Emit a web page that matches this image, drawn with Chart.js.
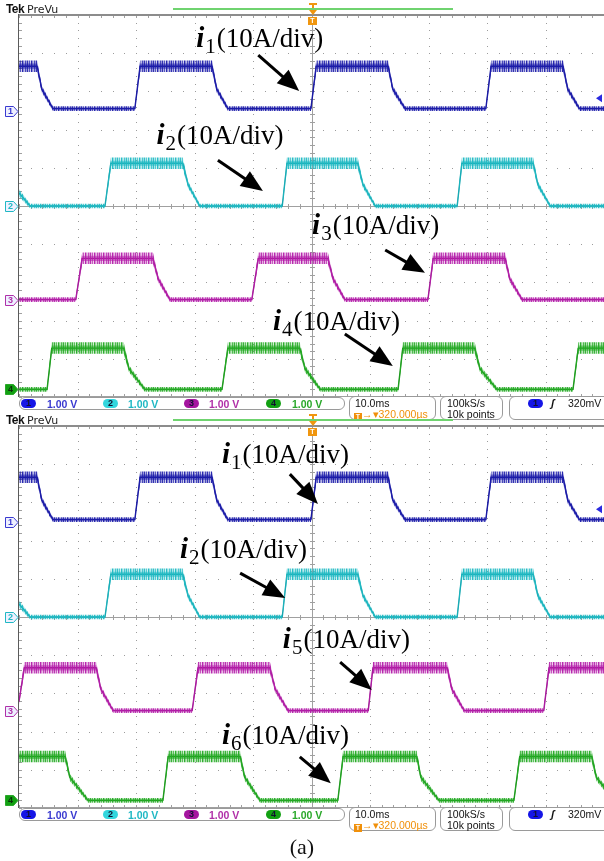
<!DOCTYPE html>
<html>
<head>
<meta charset="utf-8">
<script src="https://cdn.jsdelivr.net/npm/chart.js@4.4.0/dist/chart.umd.min.js"></script>
<style>
  body { margin: 0; background: #fff; }
  #wrap { position: relative; width: 604px; height: 861px; overflow: hidden; background: #fff; }
  .panel { position: absolute; left: 0; width: 604px; height: 422px; }
  .panel canvas { position: absolute; left: 0; top: 0; }
  .tek { position: absolute; left: 6px; top: 2px; font: bold 12px 'Liberation Sans', Arial; color: #111; letter-spacing: -0.6px; }
  .prevu { position: absolute; left: 27px; top: 3px; font: 11px 'DejaVu Sans'; color: #222; }
  .rec { position: absolute; left: 173px; top: 8px; width: 280px; height: 1.5px; background: #6fd36f; }
  .box { position: absolute; border: 1px solid #9a9a9a; border-radius: 6px; box-sizing: border-box; background: #fff; }
  .st { position: absolute; font: 10.5px 'Liberation Sans', Arial; white-space: nowrap; line-height: 10px; color: #111; }
  .ov { position: absolute; width: 15px; height: 9px; border-radius: 5px; font: bold 9px 'Liberation Sans', Arial; text-align: center; line-height: 9px; color: #101030; }
  .tb { display: inline-block; width: 8px; height: 8px; background: #f0900a; color: #fff; font: bold 7px 'Liberation Sans'; text-align: center; line-height: 8px; vertical-align: -1px; }
  #cap { position: absolute; left: 0; width: 604px; top: 834px; text-align: center; font: 22px 'Liberation Serif', serif; color: #111; }
</style>
</head>
<body>
<div id="wrap">
  <div class="panel" id="p1"><canvas id="scope1" width="604" height="400"></canvas></div>
  <div class="panel" id="p2" style="top:411px"><canvas id="scope2" width="604" height="400"></canvas></div>
  <div id="cap">(a)</div>
</div>
<script>
// time in ms (10 ms/div, trigger at 0), current in A (10 A/div)
// each point: [t, current, noise half-width]
const i1 = [
  [-50, 11.6, 1.5], [-46.9, 11.6, 1.5], [-46.1, 5.6, 0.9], [-44.2, 0.5, 0.6],
  [-30.2, 0.5, 0.6], [-29.3, 11.6, 1.5],
  [-17.0, 11.6, 1.5], [-16.2, 5.6, 0.9], [-14.3, 0.5, 0.6],
  [-0.1, 0.5, 0.6], [0.8, 11.6, 1.5],
  [13.1, 11.6, 1.5], [13.9, 5.6, 0.9], [16.0, 0.5, 0.6],
  [29.8, 0.5, 0.6], [30.7, 11.6, 1.5],
  [43.0, 11.6, 1.5], [43.8, 5.6, 0.9], [45.8, 0.5, 0.6], [50, 0.5, 0.6]
];
const i2 = [
  [-50, 3.4, 1.0], [-48.1, 0, 0.6], [-35.3, 0, 0.6], [-34.3, 11.2, 1.5],
  [-22.0, 11.2, 1.5], [-21.1, 5.6, 0.9], [-19.1, 0, 0.6],
  [-5.0, 0, 0.6], [-4.2, 11.2, 1.5],
  [7.9, 11.2, 1.5], [8.8, 5.6, 0.9], [10.9, 0, 0.6],
  [24.9, 0, 0.6], [25.7, 11.2, 1.5],
  [37.9, 11.2, 1.5], [38.7, 5.6, 0.9], [40.8, 0, 0.6], [50, 0, 0.6]
];
const i3 = [
  [-50, 0, 0.6], [-40.3, 0, 0.6], [-39.2, 10.8, 1.5],
  [-27.1, 10.8, 1.5], [-26.2, 5.4, 0.9], [-24.2, 0, 0.6],
  [-10.2, 0, 0.6], [-9.1, 10.8, 1.5],
  [2.8, 10.8, 1.5], [3.7, 5.4, 0.9], [5.7, 0, 0.6],
  [19.9, 0, 0.6], [20.8, 10.8, 1.5],
  [33.1, 10.8, 1.5], [33.9, 5.4, 0.9], [36.0, 0, 0.6], [50, 0, 0.6]
];
const i4 = [
  [-50, 0, 0.6], [-45.2, 0, 0.6], [-44.4, 10.8, 1.5],
  [-32.1, 10.8, 1.5], [-31.2, 5.4, 0.9], [-28.5, 0, 0.6],
  [-15.3, 0, 0.6], [-14.3, 10.8, 1.5],
  [-2.0, 10.8, 1.5], [-1.1, 5.4, 0.9], [1.5, 0, 0.6],
  [14.8, 0, 0.6], [15.6, 10.8, 1.5],
  [27.9, 10.8, 1.5], [28.8, 5.4, 0.9], [31.7, 0, 0.6],
  [44.7, 0, 0.6], [45.6, 10.8, 1.5], [50, 10.8, 1.5]
];
const i5 = [
  [-50, 2.4, 0.8], [-49.1, 11.2, 1.5],
  [-36.8, 11.2, 1.5], [-36.0, 5.6, 0.9], [-33.9, 0, 0.6],
  [-20.4, 0, 0.6], [-19.4, 11.2, 1.5],
  [-7.1, 11.2, 1.5], [-6.2, 5.6, 0.9], [-4.0, 0, 0.6],
  [9.7, 0, 0.6], [10.5, 11.2, 1.5],
  [23.2, 11.2, 1.5], [24.0, 5.6, 0.9], [26.1, 0, 0.6],
  [39.7, 0, 0.6], [40.6, 11.2, 1.5], [50, 11.2, 1.5]
];
const i6 = [
  [-50, 11.5, 1.5], [-42.1, 11.5, 1.5], [-41.3, 6.0, 0.9], [-38.2, 0, 0.6],
  [-25.4, 0, 0.6], [-24.5, 11.5, 1.5],
  [-12.2, 11.5, 1.5], [-11.4, 6.0, 0.9], [-8.8, 0, 0.6],
  [4.5, 0, 0.6], [5.4, 11.5, 1.5],
  [18.0, 11.5, 1.5], [18.7, 6.0, 0.9], [21.8, 0, 0.6],
  [34.6, 0, 0.6], [35.6, 11.5, 1.5],
  [47.9, 11.5, 1.5], [48.7, 6.0, 0.9], [50, 3.5, 0.8]
];

// channel ground positions (div) and trigger level on ch1 (320 mV @ 1 V/div)
const chOffset = [2.5, 0, -2.45, -4.8];
const trigLevel = 0.32;

// annotation labels: [subscript, t, div] and arrows [t0, div0, t1, div1]
const labels1 = [['1', -19.7, 4.16], ['2', -26.5, 1.62], ['3', 0.1, -0.73], ['4', -6.6, -3.25]];
const arrows1 = [[-9.1, 3.95, -2.1, 3.01], [-16.0, 1.2, -8.3, 0.39], [12.6, -1.15, 19.4, -1.75], [5.7, -3.35, 13.9, -4.19]];
const labels2 = [['1', -15.3, 4.03], ['2', -22.5, 1.54], ['5', -4.9, -0.81], ['6', -15.3, -3.32]];
const arrows2 = [[-3.7, 3.74, 1.1, 2.96], [-12.2, 1.15, -4.5, 0.5], [4.9, -1.18, 10.3, -1.91], [-2.0, -3.66, 3.3, -4.35]];

const CH = [
  { rgb: [28, 28, 170], line: '#1a1aa0', mark: '#3a3ad0', oval: '#1515e6' },
  { rgb: [30, 185, 195], line: '#14a0aa', mark: '#20b8c4', oval: '#33d6dd' },
  { rgb: [180, 30, 170], line: '#9c168f', mark: '#b030a8', oval: '#a5159f' },
  { rgb: [35, 170, 35], line: '#1a921a', mark: '#2aa82a', oval: '#12a012' },
];

// vertical-stripe texture for the noisy band (style only)
const STRIPES = [0.9, 0.35, 0.75, 0.2, 0.95, 0.5, 0.3, 0.8, 0.45];
function noiseFill(rgb) {
  const c = document.createElement('canvas');
  c.width = STRIPES.length; c.height = 1;
  const g = c.getContext('2d');
  STRIPES.forEach((al, k) => {
    g.fillStyle = `rgba(${rgb[0]},${rgb[1]},${rgb[2]},${al})`;
    g.fillRect(k, 0, 1, 1);
  });
  return g.createPattern(c, 'repeat');
}

function traceSets(pts, ch) {
  const off = chOffset[ch];
  const at = (k) => pts.map((p) => ({ x: p[0], y: off + (p[1] + k * p[2]) / 10 }));
  const base = { pointRadius: 0, tension: 0, borderJoinStyle: 'round' };
  const rgb = CH[ch].rgb.join(',');
  return [
    { ...base, data: at(1), borderWidth: 0, backgroundColor: noiseFill(CH[ch].rgb), fill: '+1' },
    { ...base, data: at(-1), borderWidth: 0, fill: false },
    { ...base, data: at(0.45), borderWidth: 0, backgroundColor: `rgba(${rgb},0.55)`, fill: '+1' },
    { ...base, data: at(-0.45), borderWidth: 0, fill: false },
    { ...base, data: at(0), borderColor: CH[ch].line, borderWidth: 1.4, fill: false },
  ];
}

function drawArrow(ctx, x0, y0, x1, y1) {
  const a = Math.atan2(y1 - y0, x1 - x0), L = 22, W = 9;
  const bx = x1 - L * Math.cos(a), by = y1 - L * Math.sin(a);
  ctx.strokeStyle = '#000';
  ctx.fillStyle = '#000';
  ctx.lineWidth = 3;
  ctx.beginPath(); ctx.moveTo(x0, y0); ctx.lineTo(bx + 2 * Math.cos(a), by + 2 * Math.sin(a)); ctx.stroke();
  ctx.beginPath();
  ctx.moveTo(x1, y1);
  ctx.lineTo(bx + W * Math.sin(a), by - W * Math.cos(a));
  ctx.lineTo(bx - W * Math.sin(a), by + W * Math.cos(a));
  ctx.closePath();
  ctx.fill();
}

function drawLabel(ctx, px, py, sub) {
  ctx.fillStyle = '#000';
  ctx.textBaseline = 'alphabetic';
  ctx.font = 'italic bold 29px "Liberation Serif"';
  ctx.fillText('i', px, py);
  let w = ctx.measureText('i').width + 1;
  ctx.font = '21px "Liberation Serif"';
  ctx.fillText(sub, px + w, py + 6);
  w += ctx.measureText(sub).width + 1;
  ctx.font = '27px "Liberation Serif"';
  ctx.fillText('(10A/div)', px + w, py);
}

const scopePlugin = {
  id: 'scope',
  beforeDatasetsDraw(chart) {
    const { ctx, chartArea: a, scales: { x, y } } = chart;
    const X = (v) => Math.round(x.getPixelForValue(v));
    const Y = (v) => Math.round(y.getPixelForValue(v));
    ctx.save();
    // dotted graticule
    ctx.fillStyle = '#9c9c9c';
    for (let t = -40; t <= 40; t += 10) {
      for (let k = -25; k <= 25; k++) ctx.fillRect(X(t), Y(k / 5), 1, 1);
    }
    for (let d = -4; d <= 4; d++) {
      for (let k = -25; k <= 25; k++) ctx.fillRect(X(k * 2), Y(d), 1, 1);
    }
    // centre crosshair with minor ticks
    ctx.fillStyle = '#a0a0a0';
    ctx.fillRect(a.left, Y(0), a.right - a.left, 1);
    ctx.fillRect(X(0), a.top, 1, a.bottom - a.top);
    for (let k = -25; k <= 25; k++) {
      ctx.fillRect(X(k * 2), Y(0) - 2, 1, 5);
      ctx.fillRect(X(0) - 2, Y(k / 5), 5, 1);
      // edge ticks
      ctx.fillRect(X(k * 2), a.top, 1, 3);
      ctx.fillRect(X(k * 2), a.bottom - 3, 1, 3);
      ctx.fillRect(a.left, Y(k / 5), 3, 1);
    }
    // border
    ctx.fillStyle = '#8c8c8c';
    ctx.fillRect(a.left, a.top - 1, a.right - a.left, 2);
    ctx.fillStyle = '#a0a0a0';
    ctx.fillRect(a.left, a.bottom - 1, a.right - a.left, 1);
    ctx.fillStyle = '#5a5a5a';
    ctx.fillRect(a.left - 1, a.top - 1, 1, a.bottom - a.top + 1);
    ctx.restore();
  },
  afterDraw(chart, args, opts) {
    const { ctx, chartArea: a, scales: { x, y } } = chart;
    ctx.save();
    // channel ground markers
    chOffset.forEach((off, c) => {
      const py = Math.round(y.getPixelForValue(off)) + 0.5;
      ctx.beginPath();
      ctx.moveTo(5.5, py - 5); ctx.lineTo(13.5, py - 5); ctx.lineTo(18, py);
      ctx.lineTo(13.5, py + 5); ctx.lineTo(5.5, py + 5); ctx.closePath();
      ctx.fillStyle = c === 3 ? CH[c].oval : '#eef0ff';
      ctx.fill();
      ctx.strokeStyle = CH[c].mark;
      ctx.lineWidth = 1;
      ctx.stroke();
      ctx.fillStyle = c === 3 ? '#0b300b' : CH[c].mark;
      ctx.font = 'bold 9px "Liberation Sans"';
      ctx.textAlign = 'center';
      ctx.textBaseline = 'middle';
      ctx.fillText(String(c + 1), 10.5, py + 0.5);
    });
    // trigger level arrow (right edge)
    const ty = y.getPixelForValue(chOffset[0] + trigLevel);
    ctx.fillStyle = '#2a2ae0';
    ctx.beginPath();
    ctx.moveTo(a.right - 8, ty); ctx.lineTo(a.right - 2, ty - 4); ctx.lineTo(a.right - 2, ty + 4);
    ctx.closePath(); ctx.fill();
    // trigger position marker
    const tx = Math.round(x.getPixelForValue(0));
    ctx.fillStyle = '#f0960f';
    ctx.fillRect(tx - 3, 3, 8, 2);
    ctx.fillRect(tx, 3, 2, 9);
    ctx.beginPath(); ctx.moveTo(tx - 3, 10); ctx.lineTo(tx + 5, 10); ctx.lineTo(tx + 1, 15); ctx.closePath(); ctx.fill();
    ctx.fillRect(tx - 4, 17, 9, 8);
    ctx.fillStyle = '#fff';
    ctx.font = 'bold 7px "Liberation Sans"';
    ctx.textAlign = 'center';
    ctx.textBaseline = 'middle';
    ctx.fillText('T', tx + 0.5, 21.5);
    // annotations
    ctx.textAlign = 'left';
    opts.labels.forEach(([sub, t, d]) => drawLabel(ctx, x.getPixelForValue(t), y.getPixelForValue(d), sub));
    opts.arrows.forEach(([t0, d0, t1, d1]) =>
      drawArrow(ctx, x.getPixelForValue(t0), y.getPixelForValue(d0), x.getPixelForValue(t1), y.getPixelForValue(d1)));
    ctx.restore();
  },
};

function makeScope(id, traces, labels, arrows) {
  const datasets = [];
  traces.forEach((tr, c) => datasets.push(...traceSets(tr, c)));
  return new Chart(document.getElementById(id), {
    type: 'line',
    data: { datasets },
    options: {
      responsive: false,
      animation: false,
      events: [],
      parsing: false,
      layout: { padding: { left: 19, right: 0, top: 15, bottom: 3 } },
      scales: {
        x: { type: 'linear', display: false, min: -50, max: 50 },
        y: { type: 'linear', display: false, min: -5, max: 5 },
      },
      plugins: {
        legend: { display: false },
        tooltip: { enabled: false },
        scope: { labels, arrows },
      },
    },
    plugins: [scopePlugin],
  });
}

function addChrome(panel) {
  const p = document.getElementById(panel);
  let h = '<div class="tek">Tek</div><div class="prevu">PreVu</div><div class="rec"></div>';
  h += '<div class="box" style="left:19px;top:397px;width:326px;height:13px"></div>';
  const ovX = [21, 103, 184, 266], txX = [47, 128, 209, 292];
  CH.forEach((c, k) => {
    h += `<div class="ov" style="left:${ovX[k]}px;top:399px;background:${c.oval}">${k + 1}</div>`;
    h += `<div class="st" style="left:${txX[k]}px;top:399px;color:${c.mark};font-weight:bold">1.00 V</div>`;
  });
  h += '<div class="box" style="left:349px;top:396px;width:87px;height:24px"></div>';
  h += '<div class="st" style="left:355px;top:398px">10.0ms</div>';
  h += '<div class="st" style="left:354px;top:409px;color:#f0900a"><span class="tb">T</span>→▾320.000µs</div>';
  h += '<div class="box" style="left:440px;top:396px;width:63px;height:24px"></div>';
  h += '<div class="st" style="left:447px;top:398px">100kS/s</div>';
  h += '<div class="st" style="left:447px;top:409px">10k points</div>';
  h += '<div class="box" style="left:509px;top:396px;width:110px;height:24px"></div>';
  h += `<div class="ov" style="left:528px;top:399px;background:${CH[0].oval}">1</div>`;
  h += '<div class="st" style="left:551px;top:398px;font-style:italic;font-weight:bold">ʃ</div>';
  h += '<div class="st" style="left:568px;top:398px">320mV</div>';
  p.insertAdjacentHTML('beforeend', h);
}

makeScope('scope1', [i1, i2, i3, i4], labels1, arrows1);
makeScope('scope2', [i1, i2, i5, i6], labels2, arrows2);
addChrome('p1');
addChrome('p2');
</script>
</body>
</html>
